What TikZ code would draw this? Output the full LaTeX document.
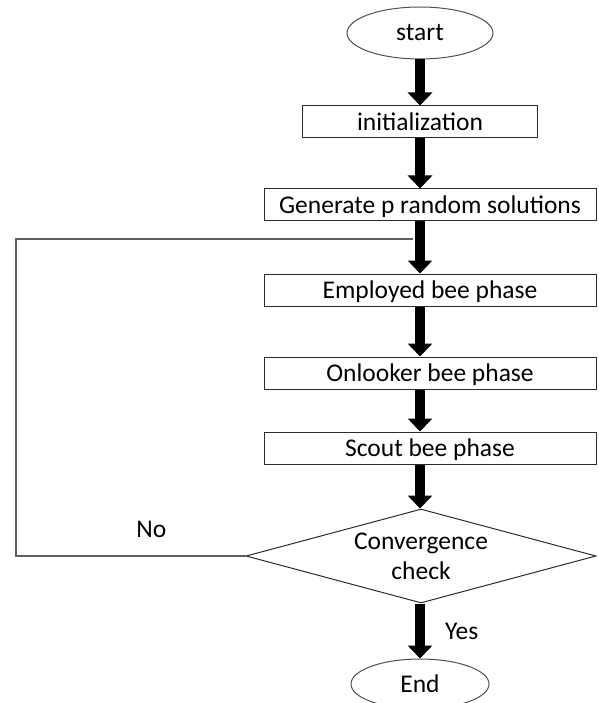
\documentclass[tikz,border=0pt]{standalone}
\usepackage{fontspec}
\setmainfont{Carlito}
\usepackage{xcolor}
\definecolor{ink}{HTML}{2B2B2B}
\definecolor{rim}{HTML}{505050}
\definecolor{loopgray}{HTML}{5E5E5E}
\usepackage{tikz}
\usetikzlibrary{arrows.meta,positioning,shapes.geometric}
\tikzset{
  every picture/.style={font=\fontsize{25.5}{30}\selectfont, line width=1pt},
  box/.style={draw=ink, rectangle, fill=white, align=center, inner sep=0pt, text height=16.5pt, text depth=0pt, minimum height=32pt, minimum width=#1},
  box/.default=332pt,
  terminal/.style={ellipse, draw=rim, inner sep=0pt, minimum width=#1, minimum height=52pt},
  terminal/.default=146pt,
  decision/.style={diamond, draw=ink, align=center, inner sep=0pt, aspect=3.72, minimum width=350pt, minimum height=94pt},
  flow/.style={-{Triangle[length=13pt, width=24pt]}, line width=10pt, draw=black},
  loopline/.style={draw=loopgray, line width=1.6pt},
  note/.style={inner sep=0pt},
}

\begin{document}
\begin{tikzpicture}[x=1pt, y=-1pt]
  \useasboundingbox (0,0) rectangle (598,703);
  \node[terminal] (start) at (420,33) {start};
  \node[box=235pt, below=46pt of start] (init) {initialization};
  \node[box, below=50pt of init, xshift=10pt] (gen) {Generate p random solutions};
  \node[box, below=52pt of gen] (emp) {Employed bee phase};
  \node[box, below=50pt of emp] (onl) {Onlooker bee phase};
  \node[box, below=42pt of onl] (scout) {Scout bee phase};
  \node[decision, below=44pt of scout, xshift=-9pt] (check) {Convergence\\check};
  \node[terminal=138pt, minimum height=50pt, below=55pt of check, xshift=-1pt] (end) {End};
  % main flow
  \draw[flow] (start) -- (init);
  \draw[flow] (init) -- (gen.north -| init);
  \draw[flow] (gen.south -| init) -- (emp.north -| init);
  \draw[flow] (emp.south -| init) -- (onl.north -| init);
  \draw[flow] (onl.south -| init) -- (scout.north -| init);
  \draw[flow] (scout.south -| init) -- (check.north -| init);
  \draw[flow] (check.south -| end) -- node[note, right=20pt] {Yes} (end);
  % back to the employed bees
  \coordinate (loopcorner) at (16,239);
  \coordinate (rejoin) at (413,239);
  \draw[loopline] (check.west) -- node[note, pos=0.41, above=18pt] {No} (check.west -| loopcorner) -- (loopcorner) -- (rejoin);
\end{tikzpicture}
\end{document}
